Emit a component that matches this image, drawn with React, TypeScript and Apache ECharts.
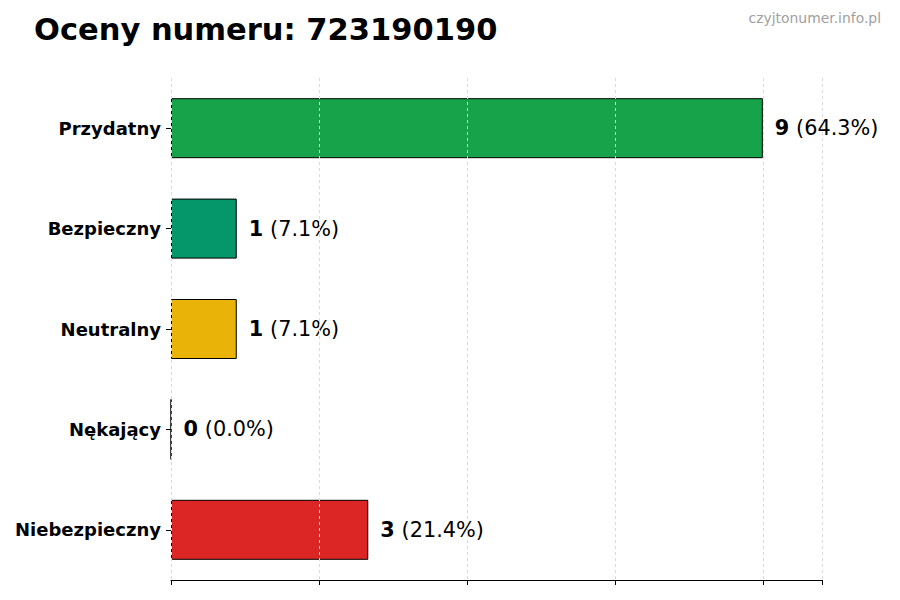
// Oceny numeru — poziomy wykres słupkowy z etykietami "liczba (procent)".
import * as React from "react";
import * as echarts from "echarts";

const categories = ["Przydatny", "Bezpieczny", "Neutralny", "Nękający", "Niebezpieczny"];
const counts = [9, 1, 1, 0, 3];
const colors = ["#16a34a", "#059669", "#eab308", "#9ca3af", "#dc2626"];
const title = "Oceny numeru: 723190190";
const watermark = "czyjtonumer.info.pl";

const FONT = "DejaVu Sans";

export default function App() {
  const ref = React.useRef<HTMLDivElement | null>(null);

  React.useEffect(() => {
    if (!ref.current) return;
    const chart = echarts.init(ref.current, undefined, { renderer: "svg" });
    const total = counts.reduce((a, b) => a + b, 0);
    const maxVal = Math.max(...counts);

    chart.setOption({
      animation: false,
      backgroundColor: "#fff",
      textStyle: { fontFamily: FONT },
      title: [
        {
          text: title,
          left: 29,
          top: 9,
          textStyle: { fontFamily: FONT, fontSize: 30.5, fontWeight: "bold", color: "#000" },
        },
        {
          text: watermark,
          right: 14,
          top: 6,
          textStyle: { fontFamily: FONT, fontSize: 13.9, fontWeight: "normal", color: "#a0a0a0" },
        },
      ],
      grid: { left: 171, right: 78, top: 78, bottom: 20, containLabel: false },
      xAxis: {
        type: "value",
        min: 0,
        max: maxVal * 1.1,
        interval: 2.25,
        z: 5,
        axisLabel: { show: false },
        axisLine: { show: true, lineStyle: { color: "#000", width: 1.2 } },
        axisTick: { show: true, length: 5, lineStyle: { color: "#000" } },
        splitLine: { show: true, lineStyle: { color: "#dadada", type: [3, 3], width: 1 } },
      },
      yAxis: {
        type: "category",
        data: categories,
        inverse: true,
        axisLine: { show: false },
        axisTick: { show: true, alignWithLabel: true, length: 5, lineStyle: { color: "#000" } },
        axisLabel: { fontFamily: FONT, fontSize: 18, fontWeight: "bold", color: "#000", margin: 10 },
        splitLine: { show: false },
      },
      series: [
        {
          type: "bar",
          barWidth: 60,
          data: counts.map((v, i) => ({
            value: v,
            itemStyle: { color: colors[i], borderColor: "#000", borderWidth: 1 },
          })),
          label: {
            show: true,
            position: "right",
            distance: 12,
            formatter: (p: { value: number }) =>
              `{b|${p.value}} {n|(${((p.value / total) * 100).toFixed(1)}%)}`,
            rich: {
              b: { fontFamily: FONT, fontSize: 20.8, fontWeight: "bold", color: "#000", padding: [0, 3, 0, 0] },
              n: { fontFamily: FONT, fontSize: 20.8, color: "#000" },
            },
          },
        },
      ],
    });

    return () => chart.dispose();
  }, []);

  return <div ref={ref} style={{ width: 900, height: 600, margin: -8 }} />;
}
